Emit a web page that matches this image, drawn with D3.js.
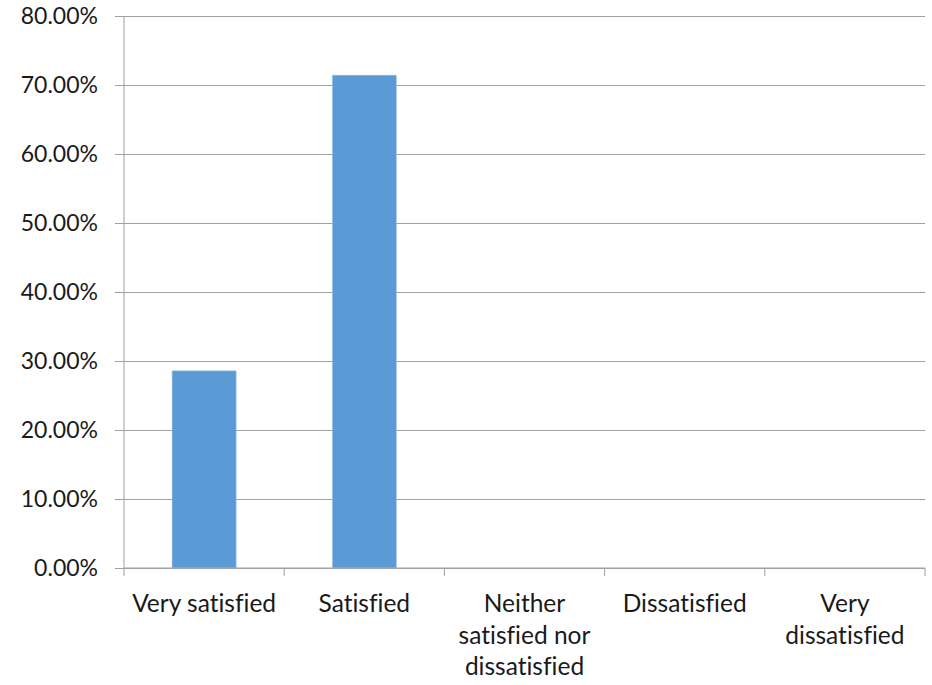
<!DOCTYPE html>
<html>
<head>
<meta charset="utf-8">
<script src="https://cdn.jsdelivr.net/npm/d3@7"></script>
<style>
  html, body { margin: 0; padding: 0; background: #fff; }
  svg { display: block; }
  text { font-family: Lato, "Open Sans", sans-serif; fill: #1a1a1a; font-variant-ligatures: none; font-feature-settings: "liga" 0; }
</style>
</head>
<body>
<svg id="chart" width="932" height="685"></svg>
<script>
const categories = ["Very satisfied", "Satisfied", "Neither satisfied nor dissatisfied", "Dissatisfied", "Very dissatisfied"];
const values = [0.2857, 0.7143, 0, 0, 0];
const yTicks = [0, 0.1, 0.2, 0.3, 0.4, 0.5, 0.6, 0.7, 0.8];

const svg = d3.select("#chart");
const margin = { left: 124, right: 7, top: 16, bottom: 117 };
const W = 932, H = 685;
const plotW = W - margin.left - margin.right;
const plotH = H - margin.top - margin.bottom;
const yFont = 23;
const xFont = 24.5;
const gridColor = "#a0a0a0";

const g = svg.append("g").attr("transform", `translate(${margin.left},${margin.top})`);

const x = d3.scaleBand().domain(categories).range([0, plotW]).paddingInner(0.6).paddingOuter(0.3);
const y = d3.scaleLinear().domain([0, 0.8]).range([plotH, 0]);

// gridlines + y ticks
const yAxis = d3.axisLeft(y).tickValues(yTicks).tickSize(-plotW).tickSizeOuter(0).tickPadding(26)
  .tickFormat(d3.format(".2%"));
const yg = g.append("g").call(yAxis);
yg.select(".domain").remove();
yg.selectAll(".tick line").attr("stroke", gridColor).attr("stroke-width", 1).attr("x1", -9).attr("x2", plotW);
yg.selectAll(".tick text").style("font-size", yFont + "px").attr("fill", "#1a1a1a");

// vertical y axis line
g.append("line").attr("x1", 0).attr("x2", 0).attr("y1", 0).attr("y2", plotH)
  .attr("stroke", gridColor).attr("stroke-width", 1);

// bars
g.selectAll("rect.bar").data(categories).enter().append("rect")
  .attr("class", "bar")
  .attr("x", d => x(d))
  .attr("width", x.bandwidth())
  .attr("y", (d, i) => y(values[i]))
  .attr("height", (d, i) => plotH - y(values[i]))
  .attr("fill", "#5B9BD5")
  .attr("stroke", "#a9c9ec")
  .attr("stroke-width", 0.6);

// x axis
const step = x.step();
const boundaries = d3.range(categories.length + 1).map(i => i * step);
const xg = g.append("g").attr("transform", `translate(0,${plotH})`);
xg.append("line").attr("x1", 0).attr("x2", plotW).attr("y1", 0).attr("y2", 0).attr("stroke", gridColor);
xg.selectAll("line.tk").data(boundaries).enter().append("line").attr("class", "tk")
  .attr("x1", d => d).attr("x2", d => d).attr("y1", 0).attr("y2", 8).attr("stroke", gridColor);

const lineH = 31.5;
const maxW = 152;
categories.forEach((c) => {
  const cx = x(c) + x.bandwidth() / 2;
  const t = xg.append("text").attr("text-anchor", "middle").style("font-size", xFont + "px")
    .attr("x", cx).attr("y", 44);
  const words = c.split(" ");
  let lines = [];
  let cur = [];
  const probe = xg.append("text").style("font-size", xFont + "px");
  words.forEach(w => {
    const test = cur.concat([w]).join(" ");
    probe.text(test);
    if (cur.length && probe.node().getComputedTextLength() > maxW) {
      lines.push(cur.join(" "));
      cur = [w];
    } else {
      cur.push(w);
    }
  });
  lines.push(cur.join(" "));
  probe.remove();
  lines.forEach((l, i) => {
    t.append("tspan").attr("x", cx).attr("dy", i === 0 ? 0 : lineH).text(l);
  });
});
</script>
</body>
</html>
